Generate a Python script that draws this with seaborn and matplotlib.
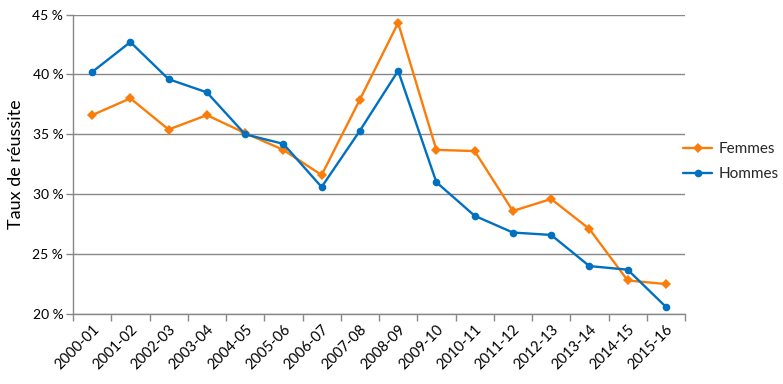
import matplotlib
matplotlib.use("Agg")
import matplotlib.pyplot as plt
import seaborn as sns
import pandas as pd
from matplotlib.ticker import FuncFormatter, FixedLocator

categories = ["2000-01", "2001-02", "2002-03", "2003-04", "2004-05", "2005-06",
              "2006-07", "2007-08", "2008-09", "2009-10", "2010-11", "2011-12",
              "2012-13", "2013-14", "2014-15", "2015-16"]
femmes = [36.6, 38.0, 35.4, 36.6, 35.1, 33.7, 31.6, 37.9, 44.3, 33.7, 33.6,
          28.6, 29.6, 27.1, 22.8, 22.5]
hommes = [40.2, 42.7, 39.6, 38.5, 35.0, 34.2, 30.6, 35.3, 40.3, 31.0, 28.2,
          26.8, 26.6, 24.0, 23.7, 20.6]
y_ticks = [20, 25, 30, 35, 40, 45]

sns.set_theme(style="white")
plt.rcParams["font.family"] = ["Lato", "DejaVu Sans"]

df = pd.DataFrame({
    "idx": list(range(len(categories))) * 2,
    "val": femmes + hommes,
    "serie": ["Femmes"] * len(categories) + ["Hommes"] * len(categories),
})

fig = plt.figure(figsize=(7.83, 3.84), dpi=100)
ax = fig.add_axes([73/783, 1 - 314/384, (685-73)/783, (314-14.5)/384])

palette = {"Femmes": "#FA7D0A", "Hommes": "#0070C0"}
markers = {"Femmes": "D", "Hommes": "o"}
for name in ["Femmes", "Hommes"]:
    sub = df[df["serie"] == name]
    sns.lineplot(data=sub, x="idx", y="val", ax=ax, color=palette[name],
                 marker=markers[name], markersize=5.5 if name == "Hommes" else 4.8,
                 markeredgewidth=0, linewidth=1.7, label=name, zorder=3)

ax.set_xlim(-0.5, len(categories) - 0.5)
ax.set_ylim(20, 45)
ax.set_yticks(y_ticks)
ax.yaxis.set_major_formatter(FuncFormatter(lambda v, p: f"{int(v)} %"))
ax.set_xticks(range(len(categories)))
ax.set_xticklabels(categories, rotation=45, ha="right", rotation_mode="anchor",
                   fontsize=10.5, color="#000000")
ax.xaxis.set_minor_locator(FixedLocator([i - 0.5 for i in range(len(categories) + 1)]))
ax.tick_params(axis="x", which="major", length=0, pad=6)
ax.tick_params(axis="x", which="minor", length=5, color="#888888", width=1, bottom=True)
ax.tick_params(axis="y", which="major", length=5, color="#888888", width=1, left=True,
               labelsize=10, labelcolor="#000000", pad=2)

ax.grid(axis="y", color="#888888", linewidth=1)
ax.set_axisbelow(True)
for s in ["top", "right"]:
    ax.spines[s].set_visible(False)
for s in ["left", "bottom"]:
    ax.spines[s].set_color("#888888")
    ax.spines[s].set_linewidth(1)

ax.set_xlabel("")
ax.set_ylabel("Taux de réussite", fontsize=13, color="#000000", labelpad=6)

leg = ax.legend(loc="upper left", bbox_to_anchor=(683/783, 1 - 142/384),
                bbox_transform=fig.transFigure, frameon=False, fontsize=11,
                handlelength=1.9, handletextpad=0.4, labelspacing=0.75,
                borderaxespad=0, borderpad=0)

fig.savefig("out.png", dpi=100)
